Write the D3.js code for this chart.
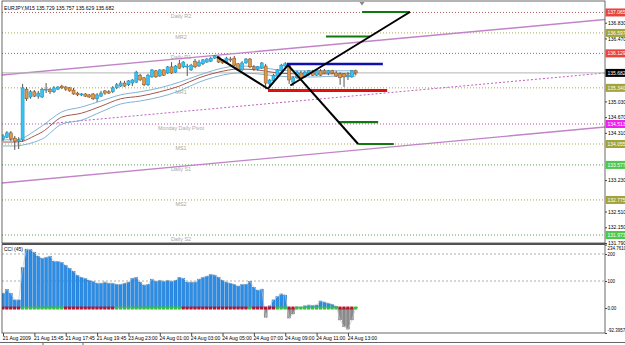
<!DOCTYPE html>
<html>
<head>
<meta charset="utf-8">
<script src="https://cdn.jsdelivr.net/npm/d3@7"></script>
<style>
  body { margin: 0; background: #fff; }
  svg { display: block; font-family: "Liberation Sans", Arial, sans-serif; }
</style>
</head>
<body>
<div id="chart"></div>
<script>
// ---- data ----
var headerText = "EURJPY,M15  135.729 135.757 135.629 135.682";

// M15 candles: [open, high, low, close]
var ohlc = [
  [134.17,134.28,134.12,134.24],[134.21,134.35,134.19,134.31],[134.31,134.35,134.12,134.17],[134.19,134.24,133.92,134.12],[134.12,134.21,133.94,134.15],
  [134.15,135.43,134.10,135.34],[135.31,135.36,135.04,135.09],[135.13,135.29,135.09,135.25],[135.25,135.29,135.13,135.15],[135.15,135.27,135.09,135.22],
  [135.13,135.34,135.11,135.31],[135.29,135.45,135.22,135.31],[135.31,135.34,135.20,135.25],[135.25,135.38,135.22,135.34],[135.31,135.38,135.29,135.36],
  [135.38,135.41,135.31,135.34],[135.36,135.38,135.27,135.31],[135.34,135.36,135.25,135.27],[135.29,135.34,135.18,135.20],[135.22,135.25,135.15,135.18],
  [135.18,135.22,135.15,135.20],[135.20,135.22,135.13,135.15],[135.18,135.20,135.11,135.13],[135.20,135.22,135.06,135.09],[135.09,135.22,135.02,135.18],
  [135.15,135.27,135.13,135.22],[135.27,135.29,135.18,135.22],[135.25,135.29,135.20,135.22],[135.25,135.38,135.22,135.34],[135.34,135.45,135.31,135.41],
  [135.38,135.50,135.36,135.45],[135.45,135.50,135.36,135.38],[135.41,135.52,135.38,135.50],[135.45,135.54,135.38,135.52],[135.47,135.73,135.45,135.70],
  [135.63,135.66,135.50,135.52],[135.57,135.59,135.38,135.41],[135.41,135.66,135.38,135.63],[135.59,135.77,135.57,135.75],[135.73,135.75,135.57,135.59],
  [135.61,135.77,135.59,135.75],[135.75,135.77,135.61,135.63],[135.68,135.84,135.66,135.82],[135.82,135.93,135.66,135.68],[135.70,135.86,135.68,135.84],
  [135.89,135.98,135.77,135.79],[135.82,135.95,135.79,135.93],[135.82,135.89,135.61,135.84],[135.75,135.89,135.73,135.86],[135.95,136.00,135.79,135.82],
  [135.84,135.98,135.82,135.93],[135.89,136.00,135.86,135.98],[135.93,136.02,135.91,136.00],[135.95,136.05,135.93,136.02],[136.02,136.09,136.00,136.07],
  [136.05,136.07,135.91,135.93],[135.98,136.00,135.89,135.91],[135.91,136.05,135.89,136.02],[136.00,136.05,135.93,135.98],[136.02,136.07,135.84,135.86],
  [135.89,135.91,135.73,135.75],[135.75,135.95,135.73,135.91],[135.91,136.02,135.89,136.00],[136.00,136.02,135.79,135.82],[135.82,135.86,135.73,135.77],
  [135.77,135.84,135.73,135.82],[135.79,135.93,135.77,135.91],[135.84,135.89,135.31,135.45],[135.43,135.54,135.34,135.52],[135.50,135.66,135.45,135.63],
  [135.61,135.77,135.57,135.75],[135.73,135.89,135.68,135.86],[135.84,135.93,135.79,135.89],[135.89,135.91,135.43,135.52],[135.47,135.61,135.38,135.57],
  [135.57,135.73,135.54,135.70],[135.68,135.73,135.54,135.57],[135.59,135.73,135.57,135.70],[135.68,135.75,135.61,135.73],[135.70,135.75,135.61,135.63],
  [135.63,135.77,135.61,135.75],[135.73,135.77,135.61,135.63],[135.73,135.77,135.66,135.68],[135.68,135.75,135.63,135.73],[135.73,135.75,135.66,135.68],
  [135.68,135.73,135.59,135.61],[135.66,135.70,135.41,135.57],[135.66,135.68,135.36,135.59],[135.59,135.70,135.52,135.63],[135.59,135.75,135.57,135.73],
  [135.729,135.757,135.629,135.682]
];

// moving average band (knots at bar index)
var maIdx   = [0, 3, 5, 8, 10, 15, 20, 25, 30, 35, 40, 45, 50, 55, 60, 65, 70, 75, 80, 85, 90];
var maUpper = [134.15,134.15,134.19,134.35,134.47,134.79,134.90,135.04,135.18,135.25,135.34,135.47,135.63,135.77,135.84,135.82,135.75,135.73,135.73,135.73,135.73];
var maMid   = [134.10,134.10,134.12,134.24,134.33,134.67,134.76,134.92,135.09,135.15,135.25,135.38,135.57,135.70,135.77,135.75,135.68,135.66,135.66,135.66,135.66];
var maLower = [134.01,134.01,134.03,134.10,134.17,134.51,134.60,134.79,134.97,135.04,135.13,135.27,135.47,135.61,135.68,135.66,135.61,135.59,135.59,135.61,135.61];

// CCI histogram
var cci = [
  54, 69, 54, 30, 30, 149, 218, 216, 206, 192,
  184, 188, 192, 173, 173, 169, 158, 147, 136, 121,
  114, 110, 103, 99, 92, 92, 96, 92, 92, 88,
  88, 92, 96, 110, 114, 96, 85, 88, 107, 99,
  103, 99, 103, 99, 103, 114, 110, 96, 96, 96,
  107, 114, 118, 125, 122, 114, 103, 96, 92, 88,
  81, 88, 88, 99, 77, 66, 70, -34, 8, 30,
  42, 52, 48, -37, -22, 4, 3, 8, 11, 10,
  11, 26, 22, 18, 14, 7, -44, -69, -78, -44,
  2
];
// zero-line trend dots: r = red, g = green
var cciTrend = ("rrrrr" + "ggggggggggg" + "rrrrrrrrrrrrr" + "ggggggggggggggggg" +
  "rrrrrrrrrrrrrrrrr" + "g" + "rrrrrr" + "ggg" + "rr" + "ggggggggggg" + "rrrr" + "g").split("");
var cciTickValues = [234.761, 200, 100, 0, -92.3957];
var cciTickLabels = ["234.7610", "200", "100", "0.00", "-92.3957"];
var cciLevels = [200, 100];

var timeLabelIdx = [0, 8, 16, 24, 32, 40, 48, 56, 64, 72, 80, 88];
var timeLabels = ["21 Aug 2009", "21 Aug 15:45", "21 Aug 17:45", "21 Aug 19:45", "23 Aug 23:00", "24 Aug 01:00",
                  "24 Aug 03:00", "24 Aug 05:00", "24 Aug 07:00", "24 Aug 09:00", "24 Aug 11:00", "24 Aug 13:00"];
var priceTicks = [137.19, 136.83, 136.47, 136.11, 135.75, 135.39, 135.03, 134.67, 134.31, 133.95,
                  133.59, 133.23, 132.87, 132.51, 132.15, 131.79];

var pivotNames  = ["Daily R2", "MR2", "Daily R1", "MR1", "Monday Daily Pivot", "MS1", "Daily S1", "MS2", "Daily S2"];
var pivotValues = [137.065, 136.597, 136.129, 135.340, 134.513, 134.055, 133.577, 132.775, 131.973];
var pivotKinds  = ["R", "M", "R", "M", "P", "M", "S", "M", "S"];
var bidPrice = 135.682;

// drawn objects in (bar index, price)
var channelLines = [[-0.26, 135.634, 153.6, 136.904], [-0.26, 133.163, 153.6, 134.444]];
var pivotTrend = [10.7, 134.513, 153.6, 135.680];
var blackLines = [[54.6, 136.05, 67.6, 135.32], [67.6, 135.32, 72.7, 135.86],
                  [72.7, 135.86, 90.6, 134.055], [73.3, 135.394, 103.8, 137.076]];
var greenLevels = [[91.6, 137.076, 103.8], [82.4, 136.515, 93.6], [85.7, 134.558, 95.7], [90.6, 134.055, 99.7]];
var blueLevel = [72.4, 135.886, 96.9];
var redLevel = [67.6, 135.279, 98.0];

// ---- layout ----
var W = 625, H = 345;
var plotL = 2, plotR = 605, mainT = 1, mainB = 243, cciT = 244.6, cciB = 333;

var svg = d3.select("#chart").append("svg")
  .attr("width", W).attr("height", H);

var x = d3.scaleLinear().domain([0, ohlc.length - 1]).range([3, 355.8]);
var y = d3.scaleLinear().domain([131.79, 137.19]).range([243, 7]);
var yc = d3.scaleLinear().domain([-92.3957, 234.761]).range([cciB, cciT]);

var defs = svg.append("defs");
defs.append("clipPath").attr("id", "clipMain").append("rect")
  .attr("x", plotL).attr("y", mainT).attr("width", plotR - plotL).attr("height", mainB - mainT);
defs.append("clipPath").attr("id", "clipCci").append("rect")
  .attr("x", plotL).attr("y", cciT - 1).attr("width", plotR - plotL).attr("height", cciB - cciT + 1);

var main = svg.append("g").attr("clip-path", "url(#clipMain)");
var lower = svg.append("g").attr("clip-path", "url(#clipCci)");

var lineColor = { R: "#a8605c", M: "#a9a84e", P: "#b84cb8", S: "#5aa25a" };
var boxColor = { R: "#e8443c", M: "#a3a33a", P: "#ee22ee", S: "#4cc84c" };

// pivot levels
pivotValues.forEach(function (v, i) {
  main.append("line")
    .attr("x1", plotL).attr("x2", plotR)
    .attr("y1", y(v)).attr("y2", y(v))
    .attr("stroke", lineColor[pivotKinds[i]])
    .attr("stroke-width", 1)
    .attr("stroke-dasharray", "1,2");
  main.append("text")
    .attr("x", 181).attr("y", y(v) + 6)
    .attr("text-anchor", "middle")
    .attr("font-size", 5.4)
    .attr("fill", "#a8a8a8")
    .text(pivotNames[i]);
});

// rising pivot trend (dotted)
main.append("line")
  .attr("x1", x(pivotTrend[0])).attr("y1", y(pivotTrend[1]))
  .attr("x2", x(pivotTrend[2])).attr("y2", y(pivotTrend[3]))
  .attr("stroke", "#c060c0").attr("stroke-width", 1).attr("stroke-dasharray", "2,2");

// channel
channelLines.forEach(function (c) {
  main.append("line")
    .attr("x1", x(c[0])).attr("y1", y(c[1]))
    .attr("x2", x(c[2])).attr("y2", y(c[3]))
    .attr("stroke", "#c283c8").attr("stroke-width", 1.4);
});

// bid line
main.append("line")
  .attr("x1", plotL).attr("x2", plotR)
  .attr("y1", y(bidPrice)).attr("y2", y(bidPrice))
  .attr("stroke", "#b4b4b4").attr("stroke-width", 1);

// moving averages
function maLine(vals, color) {
  var line = d3.line()
    .x(function (d, i) { return x(maIdx[i]); })
    .y(function (d) { return y(d); })
    .curve(d3.curveMonotoneX);
  main.append("path").datum(vals)
    .attr("d", line)
    .attr("fill", "none")
    .attr("stroke", color)
    .attr("stroke-width", 1);
}
maLine(maLower, "#7fb4d4");
maLine(maMid, "#a5574f");
maLine(maUpper, "#7fb4d4");

// candles
var candle = main.selectAll("g.candle").data(ohlc).enter().append("g");
candle.append("line")
  .attr("x1", function (d, i) { return x(i); })
  .attr("x2", function (d, i) { return x(i); })
  .attr("y1", function (d) { return y(d[1]); })
  .attr("y2", function (d) { return y(d[2]); })
  .attr("stroke", "#555")
  .attr("stroke-width", 1);
candle.append("rect")
  .attr("x", function (d, i) { return x(i) - 1.5; })
  .attr("y", function (d) { return y(Math.max(d[0], d[3])); })
  .attr("width", 3)
  .attr("height", function (d) { return Math.max(1, Math.abs(y(d[0]) - y(d[3]))); })
  .attr("fill", function (d) { return d[3] >= d[0] ? "#33c6f4" : "#dc9a4e"; })
  .attr("stroke", function (d) { return d[3] >= d[0] ? "#1a86b8" : "#8a4a18"; })
  .attr("stroke-width", 0.5);

// horizontal objects
greenLevels.forEach(function (g) {
  main.append("line")
    .attr("x1", x(g[0])).attr("x2", x(g[2]))
    .attr("y1", y(g[1])).attr("y2", y(g[1]))
    .attr("stroke", "#107a10").attr("stroke-width", 2.2);
});
main.append("line")
  .attr("x1", x(blueLevel[0])).attr("x2", x(blueLevel[2]))
  .attr("y1", y(blueLevel[1])).attr("y2", y(blueLevel[1]))
  .attr("stroke", "#1010b0").attr("stroke-width", 2.4);
main.append("line")
  .attr("x1", x(redLevel[0])).attr("x2", x(redLevel[2]))
  .attr("y1", y(redLevel[1])).attr("y2", y(redLevel[1]))
  .attr("stroke", "#e01010").attr("stroke-width", 2.8);

// black trend lines
blackLines.forEach(function (b) {
  main.append("line")
    .attr("x1", x(b[0])).attr("y1", y(b[1]))
    .attr("x2", x(b[2])).attr("y2", y(b[3]))
    .attr("stroke", "#000").attr("stroke-width", 2);
});

// header
svg.append("text")
  .attr("x", 4).attr("y", 10)
  .attr("font-size", 5.1)
  .attr("fill", "#000")
  .text(headerText);

// shift marker
svg.append("path")
  .attr("d", "M359.5,2 L364.5,2 L362,5.5 Z")
  .attr("fill", "#888");

// ---- CCI panel ----
cciLevels.forEach(function (v) {
  lower.append("line")
    .attr("x1", plotL).attr("x2", plotR)
    .attr("y1", yc(v)).attr("y2", yc(v))
    .attr("stroke", "#9a9a9a").attr("stroke-width", 0.8)
    .attr("stroke-dasharray", "2,2");
});

lower.selectAll("rect.bar").data(cci).enter().append("rect")
  .attr("x", function (d, i) { return x(i) - 1.5; })
  .attr("y", function (d) { return d >= 0 ? yc(d) : yc(0); })
  .attr("width", 3)
  .attr("height", function (d) { return Math.abs(yc(d) - yc(0)); })
  .attr("fill", function (d) { return d >= 0 ? "#2a8ee8" : "#8a8a8a"; })
  .attr("stroke", function (d) { return d >= 0 ? "#1466b8" : "#6a6a6a"; })
  .attr("stroke-width", 0.4);

lower.append("path").datum(cci)
  .attr("d", d3.line().x(function (d, i) { return x(i); }).y(function (d) { return yc(d); }))
  .attr("fill", "none").attr("stroke", "#c8c8c8").attr("stroke-width", 0.7);

lower.selectAll("rect.dot").data(cciTrend).enter().append("rect")
  .attr("x", function (d, i) { return x(i) - 1.7; })
  .attr("y", yc(0) - 1.5)
  .attr("width", 3.2)
  .attr("height", 3)
  .attr("fill", function (d) { return d === "g" ? "#33c233" : "#b8142c"; });

svg.append("text")
  .attr("x", 4).attr("y", cciT + 6)
  .attr("font-size", 5)
  .attr("fill", "#000")
  .text("CCI (45)");

// ---- frames ----
svg.append("rect")
  .attr("x", plotL).attr("y", mainT)
  .attr("width", plotR - plotL).attr("height", mainB - mainT)
  .attr("fill", "none").attr("stroke", "#444").attr("stroke-width", 0.8);
svg.append("line")
  .attr("x1", plotL).attr("x2", plotR)
  .attr("y1", 243.8).attr("y2", 243.8)
  .attr("stroke", "#555").attr("stroke-width", 1.8);
svg.append("rect")
  .attr("x", plotL).attr("y", 244.6)
  .attr("width", plotR - plotL).attr("height", cciB - 244.6)
  .attr("fill", "none").attr("stroke", "#444").attr("stroke-width", 0.8);

// ---- price axis ----
// ticks that sit under a coloured level box are hidden, as on the terminal
var boxPrices = pivotValues.concat([bidPrice]);
var shownTicks = priceTicks.filter(function (t) {
  return boxPrices.every(function (b) { return Math.abs(y(t) - y(b)) > 5.5; });
});
var pAxis = svg.append("g")
  .attr("transform", "translate(" + plotR + ",0)")
  .call(d3.axisRight(y).tickValues(shownTicks).tickSize(2).tickFormat(d3.format(".3f")));
pAxis.select(".domain").remove();
pAxis.selectAll("text").attr("font-size", 5).attr("font-family", "Liberation Sans, Arial, sans-serif")
  .attr("x", 3).attr("fill", "#000");
pAxis.selectAll("line").attr("stroke", "#444");

// coloured level boxes
pivotValues.forEach(function (v, i) {
  var g = svg.append("g");
  g.append("rect")
    .attr("x", plotR + 0.5).attr("y", y(v) - 4)
    .attr("width", 20).attr("height", 8)
    .attr("fill", boxColor[pivotKinds[i]]);
  g.append("text")
    .attr("x", plotR + 2.5).attr("y", y(v) + 1.8)
    .attr("font-size", 5).attr("fill", "#fff")
    .text(d3.format(".3f")(v));
});
svg.append("rect")
  .attr("x", plotR + 0.5).attr("y", y(bidPrice) - 4)
  .attr("width", 20).attr("height", 8).attr("fill", "#000");
svg.append("text")
  .attr("x", plotR + 2.5).attr("y", y(bidPrice) + 1.8)
  .attr("font-size", 5).attr("fill", "#fff")
  .text(d3.format(".3f")(bidPrice));

// ---- CCI axis ----
var cAxis = svg.append("g")
  .attr("transform", "translate(" + plotR + ",0)")
  .call(d3.axisRight(yc).tickValues(cciTickValues).tickSize(2)
    .tickFormat(function (d, i) { return cciTickLabels[i]; }));
cAxis.select(".domain").remove();
cAxis.selectAll("text").attr("font-size", 4.5).attr("font-family", "Liberation Sans, Arial, sans-serif")
  .attr("x", 2.5).attr("fill", "#000")
  .attr("dy", function (d, i) { return i === 0 ? "1.1em" : (i === cciTickValues.length - 1 ? "-0.3em" : "0.32em"); });
cAxis.selectAll("line").attr("stroke", "#444");

// ---- time axis ----
var tAxis = svg.append("g")
  .attr("transform", "translate(0," + cciB + ")")
  .call(d3.axisBottom(x).tickValues(timeLabelIdx).tickSize(3)
    .tickFormat(function (d, i) { return timeLabels[i]; }));
tAxis.select(".domain").remove();
tAxis.selectAll("text").attr("font-size", 5).attr("font-family", "Liberation Sans, Arial, sans-serif")
  .attr("text-anchor", "start").attr("dx", "-0.8").attr("y", 3.5).attr("fill", "#000");
tAxis.selectAll("line").attr("stroke", "#444");

// bottom tab bar
svg.append("line").attr("x1", 0).attr("x2", W).attr("y1", 342.5).attr("y2", 342.5)
  .attr("stroke", "#666").attr("stroke-width", 1);
[43, 83].forEach(function (tx) {
  svg.append("line").attr("x1", tx).attr("x2", tx).attr("y1", 342.5).attr("y2", 345)
    .attr("stroke", "#666");
});
</script>
</body>
</html>
